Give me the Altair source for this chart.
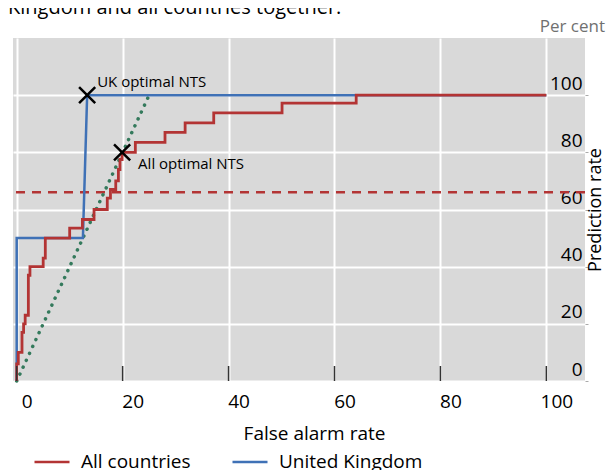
import altair as alt
import pandas as pd

# ---------------- data ----------------
series_names = ["All countries", "United Kingdom"]

all_x = [0, 0, 0.3, 1.0, 1.3, 1.6, 2.2, 2.5, 5.0, 5.4, 10.0, 12.4, 14.6, 17.1, 17.7,
         18.7, 19.2, 19.5, 19.9, 22.4, 28.0, 31.8, 37.2, 50.1, 64.1, 100]
all_y = [0, 6, 10, 17, 20, 23, 37, 40, 43, 50, 53.5, 56.5, 60, 64, 67,
         70, 74, 77.5, 80, 83.5, 87, 90.3, 93.8, 97.2, 100, 100]

uk_x = [0, 0, 12.5, 13.3, 100]
uk_y = [0, 50, 50, 100, 100]

diag_x = [0, 25]
diag_y = [0, 100]

threshold_y = [66]

opt_x = [13.3, 19.9]
opt_y = [100, 80]
opt_labels = ["UK optimal NTS", "All optimal NTS"]

x_ticks = [0, 20, 40, 60, 80, 100]
y_ticks = [0, 20, 40, 60, 80, 100]

unit_label = ["Per cent"]
title_fragment = ["Kingdom and all countries together."]

# ---------------- style ----------------
W, H = 572, 343
RED = "#b33434"
BLUE = "#3f71b6"
GREEN = "#347a5c"
FONT = "Open Sans"
FS = 19

df_all = pd.DataFrame({"x": all_x, "y": all_y, "series": series_names[0],
                       "o": list(range(len(all_x)))})
df_uk = pd.DataFrame({"x": uk_x, "y": uk_y, "series": series_names[1],
                      "o": list(range(len(uk_x)))})
df_diag = pd.DataFrame({"x": diag_x, "y": diag_y})
df_thr = pd.DataFrame({"y": threshold_y})
df_opt = pd.DataFrame({"x": opt_x, "y": opt_y, "label": opt_labels})
df_xt = pd.DataFrame({"x": x_ticks})
df_unit = pd.DataFrame({"t": unit_label})
df_title = pd.DataFrame({"t": title_fragment})

xscale = alt.Scale(domain=[-0.7, 107.3], nice=False, zero=False)
yscale = alt.Scale(domain=[0, 120], nice=False, zero=False)
cscale = alt.Scale(domain=series_names, range=[RED, BLUE])

x_axis = alt.Axis(values=x_ticks, grid=True, gridColor="white", gridWidth=2,
                  domain=False, ticks=False, labelFontSize=FS, labelPadding=11,
                  labelOffset=10, labelColor="black", title="False alarm rate",
                  titleFontSize=FS, titleFontWeight="normal", titleColor="black",
                  titleX=301, titleY=52, titleAlign="center", titleBaseline="middle")
y_axis = alt.Axis(orient="right", values=y_ticks, grid=True, gridColor="white",
                  gridWidth=2, domain=False, ticks=True, tickSize=3, tickColor="#aaaaaa",
                  labelAlign="right", labelPadding=-6, labelBaseline="alphabetic",
                  labelOffset=-6, labelFontSize=FS, labelColor="black",
                  title="Prediction rate", titleAngle=270, titleX=10, titleY=H / 2,
                  titleAlign="center", titleBaseline="middle", titleFontSize=18,
                  titleFontWeight="normal", titleColor="black")

X = alt.X("x:Q", scale=xscale, axis=x_axis)
Y = alt.Y("y:Q", scale=yscale, axis=y_axis)

legend = alt.Legend(orient="none", legendX=20, legendY=405, direction="horizontal",
                    title=None, symbolType="stroke", symbolSize=1225,
                    symbolStrokeWidth=2.5, labelFontSize=FS, labelOffset=10,
                    columnPadding=36, labelColor="black")
C = alt.Color("series:N", scale=cscale, legend=legend)

thr = alt.Chart(df_thr).mark_rule(color=RED, strokeWidth=2.5, strokeDash=[9, 7]).encode(y=Y)

diag = alt.Chart(df_diag).mark_line(color=GREEN, strokeWidth=3.5, strokeCap="round",
                                    strokeDash=[0.1, 7.5]).encode(x=X, y=Y)

uk = alt.Chart(df_uk).mark_line(strokeWidth=2.5).encode(x=X, y=Y, color=C, order="o:Q")

allc = alt.Chart(df_all).mark_line(strokeWidth=2.8, interpolate="step-after").encode(
    x=X, y=Y, color=C, order="o:Q")

xticks = alt.Chart(df_xt).mark_rule(color="#333333", strokeWidth=1.5).encode(
    x=X, y=alt.value(H - 15), y2=alt.value(H))

markers = alt.Chart(df_opt).mark_point(
    shape="M-1,-1L1,1M-1,1L1,-1", size=260, stroke="black", strokeWidth=2.5,
    filled=False, opacity=1).encode(x=X, y=Y)

uk_lab = alt.Chart(df_opt.iloc[[0]]).mark_text(
    align="left", baseline="middle", dx=10, dy=-13, fontSize=15, color="black",
    font=FONT).encode(x=X, y=Y, text="label:N")
all_lab = alt.Chart(df_opt.iloc[[1]]).mark_text(
    align="left", baseline="middle", dx=16, dy=12, fontSize=15, color="black",
    font=FONT).encode(x=X, y=Y, text="label:N")

unit = alt.Chart(df_unit).mark_text(
    align="right", baseline="middle", fontSize=17, color="#707070", font=FONT).encode(
    x=alt.value(W + 20), y=alt.value(-11), text="t:N")

frag = alt.Chart(df_title).mark_text(
    align="left", baseline="alphabetic", fontSize=20, color="black", font=FONT).encode(
    x=alt.value(-5), y=alt.value(-24), text="t:N")

chart = alt.layer(thr, diag, uk, allc, xticks, markers, uk_lab, all_lab, unit, frag).properties(
    width=W, height=H,
    autosize=alt.AutoSizeParams(type="none"),
    padding={"left": 5, "top": 30, "right": 21, "bottom": 89},
).configure(font=FONT).configure_view(fill="#d9d9d9", strokeWidth=0)

chart.save("out.html", embed_options={"renderer": "svg", "actions": False})
